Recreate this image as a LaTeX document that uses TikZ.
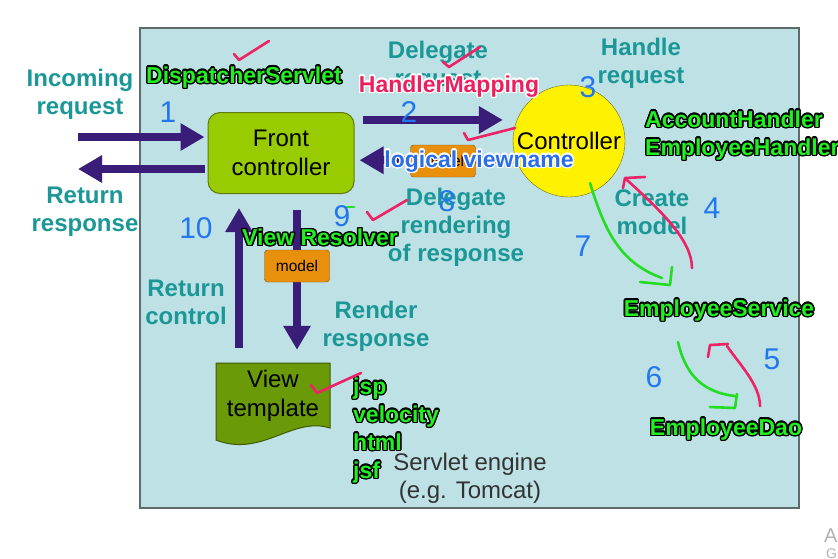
\documentclass[tikz,border=0pt]{standalone}
\usepackage{fontspec}
\setmainfont{Liberation Sans}
\usepackage{contour}
\contourlength{1.4pt}
\usetikzlibrary{positioning,arrows.meta,calc}
\definecolor{panel}{HTML}{BDE1E5}
\definecolor{panelline}{HTML}{5E6B6B}
\definecolor{capteal}{HTML}{1C9797}
\definecolor{flowpurple}{HTML}{3A1D78}
\definecolor{frontgreen}{HTML}{99CC00}
\definecolor{frontline}{HTML}{5F7A10}
\definecolor{ctrlline}{HTML}{6B6B20}
\definecolor{tplgreen}{HTML}{6A9A08}
\definecolor{tplline}{HTML}{3F5A00}
\definecolor{modelorange}{HTML}{E8900C}
\definecolor{modelline}{HTML}{8A5200}
\definecolor{enginegray}{HTML}{333333}
\definecolor{taggreen}{HTML}{22EE22}
\definecolor{tagpink}{HTML}{EE1F5E}
\definecolor{tagblue}{HTML}{2A6FE8}
\definecolor{inkblue}{HTML}{2277EE}
\definecolor{inkpink}{HTML}{EE2266}
\definecolor{inkgreen}{HTML}{22DD22}

\begin{document}
\begin{tikzpicture}[
  x=1pt, y=-1pt,
  caption/.style={font=\fontsize{24}{28}\selectfont\bfseries, text=capteal, align=center, inner sep=0pt},
  plain/.style={font=\fontsize{24}{29}\selectfont, align=center},
  modelbox/.style={draw=modelline, fill=modelorange, rounded corners=3pt, minimum width=65pt,
                   minimum height=32pt, inner sep=0pt, font=\fontsize{15.5}{18}\selectfont},
  bigarr/.style={-{Triangle[length=24pt,width=26pt]}, line width=8pt, flowpurple},
  tag/.style={font=\fontsize{23}{28}\selectfont\bfseries, inner sep=0pt, align=left},
  ink/.style={line width=2.6pt, line cap=round, line join=round},
  digit/.style={font=\fontsize{30}{30}\selectfont, text=inkblue, inner sep=0pt},
]
  \fill[white] (0,0) rectangle (838,558);
  \clip (0,0) rectangle (838,558);

  % Servlet engine panel
  \draw[panelline, fill=panel, line width=1.2pt] (140,28) rectangle (799,508);

  % Main blocks
  \node[draw=frontline, fill=frontgreen, rounded corners=12pt, line width=1pt,
        minimum width=146pt, minimum height=81pt, plain] (front) at (281,153) {Front\\controller};
  \node[circle, draw=ctrlline, fill=yellow, minimum size=112pt, inner sep=0pt, plain] (ctrl) at (569,141) {Controller};

  \path[draw=tplline, fill=tplgreen, line width=1pt]
    (216,363) -- (330,363) -- (330,428) .. controls (292,416) and (262,458) .. (216,440) -- cycle;
  \node[plain, minimum width=114pt, minimum height=66pt, inner sep=0pt] (viewtpl) at (273,396) {View\\template};

  % Request flow
  \coordinate (inL) at (78,137);
  \coordinate (outL) at (78,169);
  \coordinate (dn) at (297,266);
  \coordinate (up) at (239,300);
  \draw[bigarr, shorten >=3pt] (inL) -- (inL -| front.west);
  \draw[bigarr, shorten <=3pt] (outL -| front.west) -- (outL);
  \draw[bigarr, shorten <=8pt, shorten >=14pt] (front.east |- ctrl.158) -- (ctrl.158);
  \draw[bigarr, shorten >=5pt] (ctrl.200) -- (front.east |- ctrl.200);
  \node[modelbox] (model1) at (443,161) {model};
  \draw[bigarr, shorten <=16pt, shorten >=13pt] (front.south -| dn) -- (viewtpl.north -| dn);
  \node[modelbox] (model2) at (dn) {model};
  \draw[bigarr, shorten <=15pt, shorten >=14pt] (viewtpl.north -| up) -- (front.south -| up);

  % Step captions
  \node[caption] (incap) at (80,94) {Incoming\\request};
  \node[caption] (retcap) at (85,212) {Return\\response};
  \node[caption] (delcap) at (438,66) {Delegate\\request};
  \node[caption] (handcap) at (641,63) {Handle\\request};
  \node[caption] (rendcap) at (456,227) {Delegate\\rendering\\of response};
  \node[caption] (modcap) at (652,212) {Create\\model};
  \node[caption] (ctlcap) at (186,302) {Return\\control};
  \node[caption] (rescap) at (376,326) {Render\\response};
  \node[plain, text=enginegray, font=\fontsize{24}{28}\selectfont] (engine) at (470,478) {Servlet engine\\(e.g. Tomcat)};

  % Spring names
  \node[tag, text=taggreen] (dispatcher) at (244,78) {\contour{black}{DispatcherServlet}};
  \node[tag, text=tagpink] (mapping) at (449,87) {\contour{white}{HandlerMapping}};
  \node[tag, text=tagblue] (viewname) at (479,162) {\contour{white}{logical viewname}};
  \node[tag, text=taggreen] (resolver) at (320,238) {\contour{black}{View Resolver}};
  \node[tag, text=taggreen, anchor=west] (handlers) at (645,136)
    {\contour{black}{AccountHandler}\\\contour{black}{EmployeeHandler}};
  \node[tag, text=taggreen] (service) at (719,311) {\contour{black}{EmployeeService}};
  \node[tag, text=taggreen] (dao) at (726,430) {\contour{black}{EmployeeDao}};
  \node[tag, text=taggreen, anchor=west] (views) at (353,431)
    {\contour{black}{jsp}\\\contour{black}{velocity}\\\contour{black}{html}\\\contour{black}{jsf}};

  % Hand-drawn ticks
  \draw[ink, inkpink] (234,54) -- (239,60) -- (269,41);
  \draw[ink, inkpink] (443,62) -- (449,67) -- (480,47);
  \draw[ink, inkpink] (464,133) -- (468,140) -- (515,128);
  \draw[ink, inkpink] (367,212) -- (373,220) -- (407,200);
  \draw[ink, inkpink] (311,385) -- (317,393) -- (361,373);
  \draw[ink, inkgreen] (347,207) -- (354,207);

  % Hand-drawn call arrows
  \draw[ink, inkgreen] (590,183) .. controls (604,228) and (618,262) .. (662,278);
  \draw[ink, inkgreen] (640,282) -- (670,285) -- (672,267);
  \draw[ink, inkpink] (692,268) .. controls (692,240) and (660,210) .. (627,180);
  \draw[ink, inkpink] (623,188) -- (625,178) -- (645,177);
  \draw[ink, inkgreen] (678,342) .. controls (685,372) and (700,392) .. (735,396);
  \draw[ink, inkgreen] (710,407) -- (735,408) -- (737,394);
  \draw[ink, inkpink] (760,406) .. controls (760,385) and (740,365) .. (727,346);
  \draw[ink, inkpink] (708,357) -- (710,345) -- (728,344);

  % Step numbers
  \node[digit] (n1) at (168,112) {1};
  \node[digit] (n2) at (409,112) {2};
  \node[digit] (n3) at (588,87) {3};
  \node[digit] (n4) at (712,208) {4};
  \node[digit] (n5) at (772,359) {5};
  \node[digit] (n6) at (654,377) {6};
  \node[digit] (n7) at (583,246) {7};
  \node[digit] (n8) at (447,201) {8};
  \node[digit] (n9) at (342,216) {9};
  \node[digit] (n10) at (196,228) {10};

  % Watermark remains
  \node[font=\fontsize{20}{20}\selectfont, text=black!30, anchor=west, inner sep=0pt] (wmA) at (824,536) {A};
  \node[font=\fontsize{14}{14}\selectfont, text=black!30, anchor=west, inner sep=0pt] (wmG) at (826,554) {G};
\end{tikzpicture}
\end{document}
